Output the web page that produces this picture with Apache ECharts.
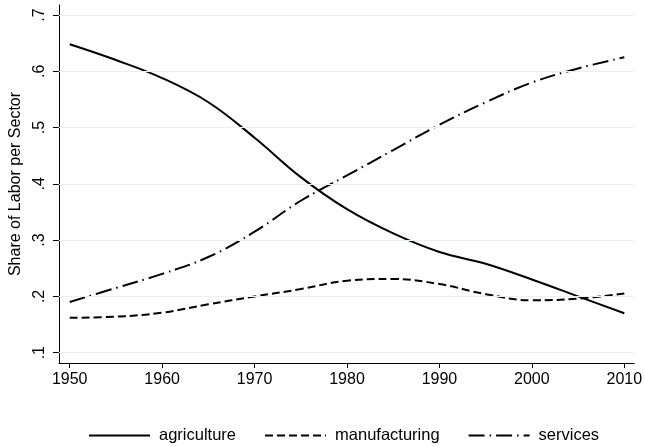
<!DOCTYPE html>
<html>
<head>
<meta charset="utf-8">
<script src="https://cdn.jsdelivr.net/npm/echarts@6/dist/echarts.min.js"></script>
<style>
  html, body { margin: 0; padding: 0; background: #fff; }
  #chart { width: 645px; height: 447px; }
</style>
</head>
<body>
<div id="chart"></div>
<script>
const years = [1950, 1955, 1960, 1965, 1970, 1975, 1980, 1985, 1990, 1995, 2000, 2005, 2010]
const agriculture = [0.648, 0.620, 0.588, 0.545, 0.482, 0.412, 0.355, 0.312, 0.279, 0.258, 0.230, 0.200, 0.170]
const manufacturing = [0.162, 0.164, 0.171, 0.186, 0.200, 0.213, 0.228, 0.231, 0.222, 0.204, 0.193, 0.196, 0.205]
const services = [0.190, 0.215, 0.240, 0.270, 0.315, 0.370, 0.415, 0.460, 0.505, 0.545, 0.580, 0.605, 0.625]
const xTicks = [1950, 1960, 1970, 1980, 1990, 2000, 2010]
const yTicks = [0.1, 0.2, 0.3, 0.4, 0.5, 0.6, 0.7]

const font = 'Liberation Sans, Arial, Helvetica, sans-serif'
const pairs = arr => years.map((y, i) => [y, arr[i]])

const chart = echarts.init(document.getElementById('chart'))

chart.setOption({
  animation: false,
  grid: {
    left: 53,
    right: 8,
    top: 5,
    bottom: 84
  },
  xAxis: {
    type: 'value',
    min: 1948.83,
    max: 2011.07,
    axisLine: { show: true, lineStyle: { color: '#000', width: 1 } },
    axisTick: { show: true, customValues: xTicks, length: 5, lineStyle: { color: '#000' } },
    axisLabel: {
      customValues: xTicks,
      color: '#000',
      fontFamily: font,
      fontSize: 16,
      margin: 9,
      formatter: v => String(v)
    },
    splitLine: { show: false }
  },
  yAxis: {
    type: 'value',
    min: 0.0817,
    max: 0.7178,
    name: 'Share of Labor per Sector',
    nameLocation: 'middle',
    nameGap: 32,
    nameTextStyle: { color: '#000', fontFamily: font, fontSize: 16 },
    axisLine: { show: true, lineStyle: { color: '#000', width: 1 } },
    axisTick: { show: true, customValues: yTicks, length: 6, lineStyle: { color: '#000' } },
    axisLabel: {
      customValues: yTicks,
      rotate: 90,
      color: '#000',
      fontFamily: font,
      fontSize: 16,
      margin: 11,
      formatter: v => String(Math.round(v * 10) / 10).replace(/^0/, '')
    },
    splitLine: { show: false }
  },
  legend: {
    top: 422,
    left: 83,
    itemWidth: 61,
    itemHeight: 16,
    itemGap: 28,
    itemStyle: { opacity: 0 },
    textStyle: { color: '#000', fontFamily: font, fontSize: 16.5, padding: [0, 0, 0, 4] },
    data: ['agriculture', 'manufacturing', 'services']
  },
  series: [
    {
      // light gridlines at the y ticks
      type: 'line',
      data: [],
      silent: true,
      markLine: {
        symbol: 'none',
        silent: true,
        label: { show: false },
        lineStyle: { color: '#e8f0f2', type: 'solid', width: 1 },
        data: yTicks.map(v => ({ yAxis: v }))
      }
    },
    {
      name: 'agriculture',
      type: 'line',
      smooth: 0.4,
      showSymbol: false,
      data: pairs(agriculture),
      lineStyle: { color: '#000', width: 2, type: 'solid' },
      itemStyle: { color: '#000' }
    },
    {
      name: 'manufacturing',
      type: 'line',
      smooth: 0.4,
      showSymbol: false,
      data: pairs(manufacturing),
      lineStyle: { color: '#000', width: 2, type: [8, 4] },
      itemStyle: { color: '#000' }
    },
    {
      name: 'services',
      type: 'line',
      smooth: 0.4,
      showSymbol: false,
      data: pairs(services),
      lineStyle: { color: '#000', width: 2, type: [16, 5, 1.5, 5] },
      itemStyle: { color: '#000' }
    }
  ]
})
</script>
</body>
</html>
